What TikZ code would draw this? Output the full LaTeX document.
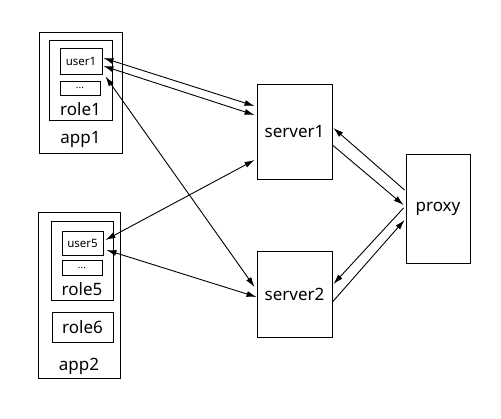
\documentclass[tikz,border=0pt]{standalone}
\usepackage{fontspec}
\setmainfont{Noto Sans}
\usetikzlibrary{arrows.meta,calc}

\begin{document}
\begin{tikzpicture}[x=1pt,y=-1pt,line width=0.9pt,
    >={Latex[length=10pt,width=6pt]},
    box/.style={draw,inner sep=0pt},
    big/.style={font=\fontsize{17}{20}\selectfont},
    small/.style={font=\fontsize{11.5}{14}\selectfont},
    tiny/.style={font=\fontsize{10}{12}\selectfont}]
  \useasboundingbox (0,0) rectangle (501,418);
  % app1
  \node[box,minimum width=83pt,minimum height=121pt](app1)at(80.5,92.5){};
  \node[box,minimum width=63pt,minimum height=80pt](role1)at(80.5,80){};
  \node[box,small,minimum width=42pt,minimum height=26pt](user1)at(81,61){user1};
  \node[box,tiny,minimum width=40pt,minimum height=14pt](dots1)at(80,88){...};
  \node[big](role1txt)at(80.5,109){role1};
  \node[big](app1txt)at(80.5,139){app1};
  % app2
  \node[box,minimum width=82pt,minimum height=166pt](app2)at(79,295){};
  \node[box,minimum width=62pt,minimum height=79pt](role5)at(82,260.5){};
  \node[box,small,minimum width=41pt,minimum height=24pt](user5)at(82.5,243){user5};
  \node[box,tiny,minimum width=40pt,minimum height=15pt](dots5)at(82,268){...};
  \node[big](role5txt)at(82,289){role5};
  \node[box,big,minimum width=61pt,minimum height=30pt](role6)at(82.5,327){role6};
  \node[big](app2txt)at(79,366){app2};
  % servers and proxy
  \node[box,big,minimum width=75pt,minimum height=95pt](server1)at(294.5,131.5){server1};
  \node[box,big,minimum width=75pt,minimum height=86pt](server2)at(294.5,294){server2};
  \node[box,big,minimum width=64pt,minimum height=109pt](proxy)at(438,208.5){proxy};
  % users <-> servers
  \draw[<->]($(user1.east)+(1,-3)$)--($(server1.west)+(-2,-25.5)$);
  \draw[<->]($(user1.east)+(1,5)$)--($(server1.west)+(-2,-16.5)$);
  \draw[<->]($(user1.south east)+(3,2)$)--($(server2.west)+(-2,-7)$);
  \draw[<->]($(user5.east)+(2,-3)$)--($(server1.west)+(-2,28.5)$);
  \draw[<->]($(user5.east)+(3,7)$)--($(server2.west)+(0,3)$);
  % servers <-> proxy
  \draw[->]($(proxy.west)+(-1,-18.5)$)--($(server1.east)+(1,-3.5)$);
  \draw[->]($(server1.east)+(0,13.5)$)--($(proxy.west)+(-2,-3.5)$);
  \draw[->]($(proxy.west)+(-2,-0.5)$)--($(server2.east)+(1,-10)$);
  \draw[->]($(server2.east)+(0,8)$)--($(proxy.west)+(-1,11.5)$);
\end{tikzpicture}
\end{document}
